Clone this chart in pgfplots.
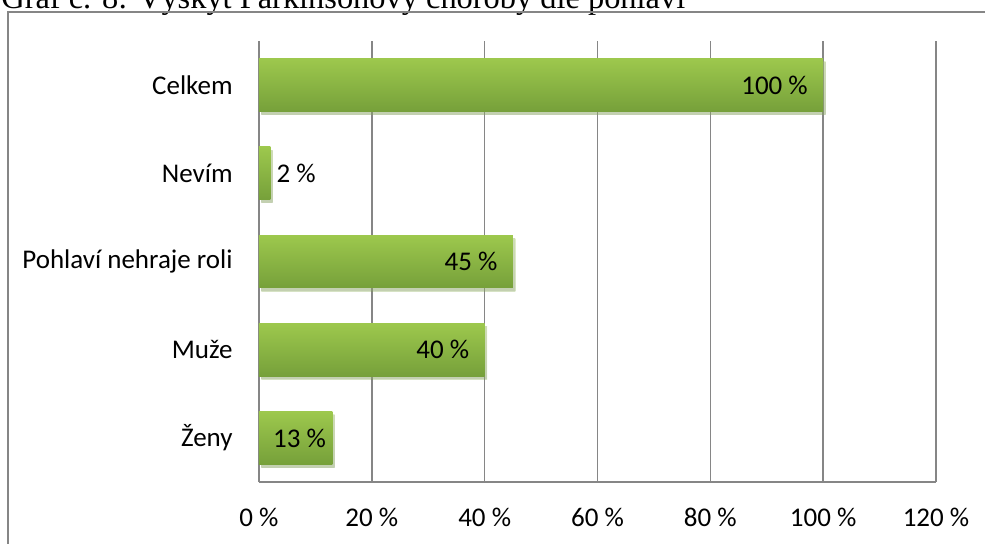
\documentclass[border=0pt]{standalone}
\usepackage{pgfplots}
\pgfplotsset{compat=1.18}
\usepackage{fontspec}
\setmainfont{Carlito}
\newfontfamily\titlefont{Liberation Serif}
\definecolor{gridgray}{HTML}{868686}
\definecolor{bartop}{HTML}{9DC84D}
\definecolor{barbot}{HTML}{76A03A}
\begin{document}
\begin{tikzpicture}
\fontsize{13.5}{16}\selectfont
\node[anchor=base west, inner sep=0pt, font=\titlefont\fontsize{16.2}{19}\selectfont] at (0.5pt,-4pt) {Graf č. 8: Výskyt Parkinsonovy choroby dle pohlaví};
\draw[gridgray, line width=0.9pt] (4pt,-320pt) -- (4pt,-6pt) -- (560pt,-6pt);
\begin{axis}[
  at={(129.5pt,-241pt)}, anchor=south west,
  scale only axis, width=338.5pt, height=220.5pt,
  xmin=0, xmax=120, ymin=-0.5, ymax=4.5,
  xtick={0,20,40,60,80,100,120},
  xticklabels={0 \%,20 \%,40 \%,60 \%,80 \%,100 \%,120 \%},
  ytick={0,1,2,3,4},
  yticklabels={Ženy,Muže,Pohlaví nehraje roli,Nevím,Celkem},
  xmajorgrids, major grid style={gridgray, line width=0.75pt},
  axis x line*=bottom, axis y line*=left,
  axis line style={gridgray, line width=0.75pt, -},
  major tick length=0pt,
  xticklabel style={yshift=-8.5pt, font=\fontsize{13.5}{16}\selectfont},
  yticklabel style={xshift=-8.5pt, font=\fontsize{13.5}{16}\selectfont},
  every axis plot/.append style={bar width=0.6, bar shift=0pt},
  mybar/.style={xbar, draw=none, top color=bartop, bottom color=barbot,
    preaction={fill=black!35, fill opacity=0.3, transform canvas={xshift=1.2pt, yshift=-1.6pt}}},
  clip=false,
]
\addplot[mybar] coordinates {(13,0)};
\addplot[mybar] coordinates {(40,1)};
\addplot[mybar] coordinates {(45,2)};
\addplot[mybar] coordinates {(2,3)};
\addplot[mybar] coordinates {(100,4)};
\addplot[only marks, mark=none, nodes near coords, point meta=explicit symbolic,
  nodes near coords style={anchor=east, xshift=-3pt, font=\fontsize{13.5}{16}\selectfont, text=black}]
  coordinates {(40,1)[40 \%] (45,2)[45 \%] (100,4)[100 \%]};
\addplot[only marks, mark=none, nodes near coords, point meta=explicit symbolic,
  nodes near coords style={anchor=east, xshift=1.5pt, font=\fontsize{13.5}{16}\selectfont, text=black}]
  coordinates {(13,0)[13 \%]};
\addplot[only marks, mark=none, nodes near coords, point meta=explicit symbolic,
  nodes near coords style={anchor=west, xshift=-1.5pt, font=\fontsize{13.5}{16}\selectfont, text=black}]
  coordinates {(2,3)[2 \%]};
\end{axis}
\pgfresetboundingbox
\useasboundingbox (0,0) rectangle (492.5pt,-271.5pt);
\end{tikzpicture}
\end{document}
